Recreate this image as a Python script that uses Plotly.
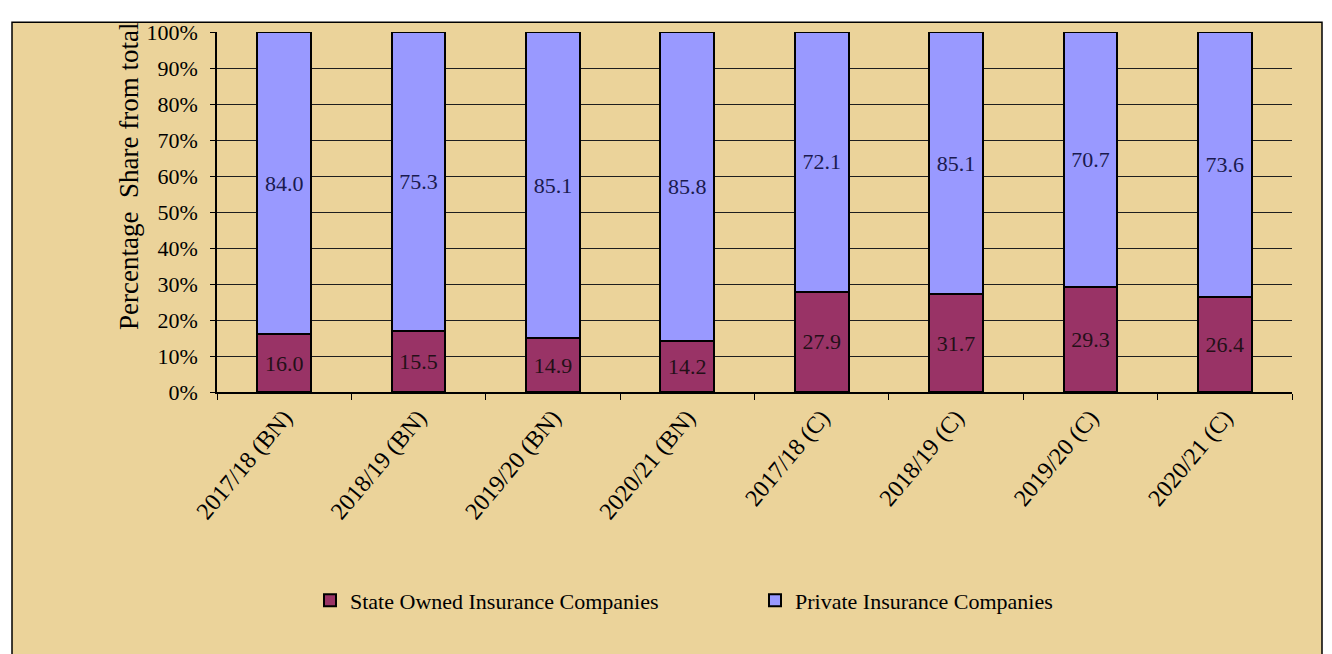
import plotly.graph_objects as go

categories = ["2017/18 (BN)", "2018/19 (BN)", "2019/20 (BN)", "2020/21 (BN)",
              "2017/18 (C)", "2018/19 (C)", "2019/20 (C)", "2020/21 (C)"]
state_owned = [16.0, 15.5, 14.9, 14.2, 27.9, 31.7, 29.3, 26.4]
private = [84.0, 75.3, 85.1, 85.8, 72.1, 85.1, 70.7, 73.6]
y_ticks = [0, 10, 20, 30, 40, 50, 60, 70, 80, 90, 100]
y_tick_text = [f"{v}%" for v in y_ticks]

FONT = "Liberation Serif, Times New Roman, serif"
W, H = 1332, 654
OFF = 8  # page body margin
# plot area in screen pixels: x 217..1292, y 27..392
L, T = 217 - OFF, 27 - OFF
R = W - (1292 - OFF)
B = H - (392 - OFF)
PW, PH = W - L - R, H - T - B


def px(x):
    return (x - OFF - L) / PW


def py(y):
    return (H - B - (y - OFF)) / PH


fig = go.Figure()
fig.add_trace(go.Bar(
    x=categories, y=state_owned, name="State Owned Insurance Companies",
    marker=dict(color="#993366", line=dict(color="#000000", width=2)),
    text=[f"{v:.1f}" for v in state_owned], textposition="inside",
    insidetextanchor="middle", textangle=0,
    textfont=dict(family=FONT, size=22, color="#241018"),
))
fig.add_trace(go.Bar(
    x=categories, y=private, name="Private Insurance Companies",
    marker=dict(color="#9999FF", line=dict(color="#000000", width=2)),
    text=[f"{v:.1f}" for v in private], textposition="inside",
    insidetextanchor="middle", textangle=0,
    textfont=dict(family=FONT, size=22, color="#1a1a4e"),
))

fig.update_layout(
    width=W, height=H,
    margin=dict(l=L, r=R, t=T, b=B, pad=0),
    barmode="stack", barnorm="percent", bargap=0.6,
    paper_bgcolor="#ffffff", plot_bgcolor="#C0C0C0",
    font=dict(family=FONT, size=22, color="#000000"),
    xaxis=dict(
        type="category", tickson="boundaries", ticks="outside", ticklen=6,
        tickcolor="#000000", tickwidth=1, showgrid=False,
        showline=True, linecolor="#000000", linewidth=1.5,
        tickangle=-50, tickfont=dict(family=FONT, size=24, color="#000000"),
    ),
    yaxis=dict(
        range=[0, 100], tickmode="array", tickvals=y_ticks, ticktext=y_tick_text,
        ticks="outside", ticklen=5, tickcolor="#000000",
        showgrid=True, gridcolor="#1e1e1e", gridwidth=1,
        showline=True, linecolor="#000000", linewidth=1.5,
        zeroline=False, ticklabelstandoff=8,
        tickfont=dict(family=FONT, size=22, color="#000000"),
    ),
    legend=dict(
        orientation="h", x=px(310), xanchor="left", y=py(582), yanchor="top",
        font=dict(family=FONT, size=22, color="#000000"),
        bgcolor="rgba(0,0,0,0)", entrywidth=400, entrywidthmode="pixels",
        traceorder="normal",
    ),
    shapes=[dict(
        type="rect", xref="paper", yref="paper", layer="below",
        x0=px(12), x1=px(1322), y0=py(680), y1=py(17),
        fillcolor="#EBD39A", line=dict(color="#000000", width=1.5),
    )],
    annotations=[dict(
        text="Percentage  Share from total", xref="paper", yref="paper",
        x=px(129), y=py(174), xanchor="center", yanchor="middle",
        textangle=-90, showarrow=False,
        font=dict(family=FONT, size=27, color="#000000"),
    )],
)

fig.write_html("out.html")
